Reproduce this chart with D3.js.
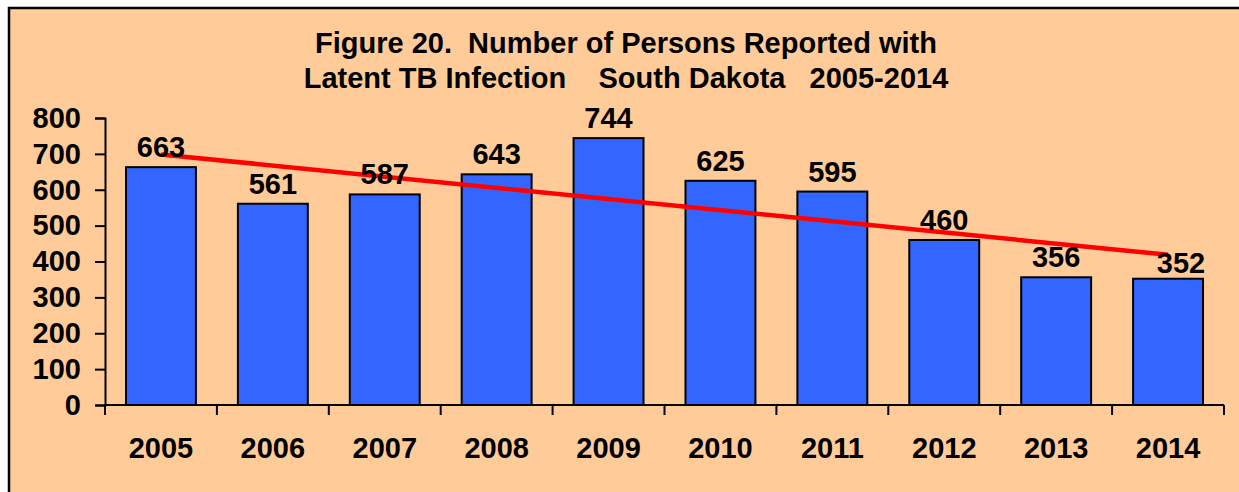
<!DOCTYPE html>
<html>
<head>
<meta charset="utf-8">
<script src="https://cdn.jsdelivr.net/npm/d3@7"></script>
<style>
  html, body { margin: 0; padding: 0; background: #fff; }
  text { font-family: Arial, "Liberation Sans", sans-serif; font-weight: bold; fill: #000; }
</style>
</head>
<body>
<svg id="chart"></svg>
<script>
// data
const years = ["2005", "2006", "2007", "2008", "2009", "2010", "2011", "2012", "2013", "2014"];
const persons = [663, 561, 587, 643, 744, 625, 595, 460, 356, 352];
const yTicks = [0, 100, 200, 300, 400, 500, 600, 700, 800];
const titleLines = ["Figure 20.  Number of Persons Reported with", "Latent TB Infection    South Dakota   2005-2014"];

const width = 1239;
const height = 492;
const margin = { top: 118, right: 15, bottom: 87, left: 105 };
const fontSize = "29px";

const svg = d3.select("#chart")
  .attr("width", width)
  .attr("height", height);

// background + frame
svg.append("rect")
  .attr("x", 9).attr("y", 8)
  .attr("width", width + 10).attr("height", height + 10)
  .attr("fill", "#FFCC99")
  .attr("stroke", "#000")
  .attr("stroke-width", 2.5);

// title
svg.append("text")
  .attr("xml:space", "preserve")
  .attr("text-anchor", "middle")
  .style("font-size", "29px")
  .selectAll("tspan")
  .data(titleLines)
  .enter()
  .append("tspan")
  .attr("x", 626)
  .attr("y", (d, i) => 53 + i * 35)
  .style("white-space", "pre")
  .text(d => d);

// scales
const x = d3.scaleBand()
  .domain(years)
  .range([margin.left, width - margin.right])
  .paddingInner(0.375)
  .paddingOuter(0.1875);

const y = d3.scaleLinear()
  .domain([0, 800])
  .range([height - margin.bottom, margin.top]);

// axes
const xAxis = d3.axisBottom(x).tickSize(0).tickPadding(32);
const gx = svg.append("g")
  .attr("transform", "translate(0," + (height - margin.bottom) + ")")
  .call(xAxis);
gx.select(".domain").remove();
gx.selectAll("text").style("font-size", fontSize).attr("fill", "#000");

// tick marks between categories
const xBounds = d3.range(years.length + 1).map(i => margin.left + i * x.step());
gx.selectAll(".bound")
  .data(xBounds)
  .enter()
  .append("line")
  .attr("x1", d => d).attr("x2", d => d)
  .attr("y1", 0).attr("y2", 10)
  .attr("stroke", "#000").attr("stroke-width", 2);

const yAxis = d3.axisLeft(y).tickValues(yTicks).tickSize(10).tickPadding(14);
const gy = svg.append("g")
  .attr("transform", "translate(" + margin.left + ",0)")
  .call(yAxis);
gy.select(".domain").attr("stroke-width", 2);
gy.selectAll(".tick line").attr("stroke-width", 2);
gy.selectAll("text").style("font-size", fontSize).attr("fill", "#000");

// bars
svg.selectAll(".bar")
  .data(persons)
  .enter()
  .append("rect")
  .attr("class", "bar")
  .attr("x", (d, i) => x(years[i]))
  .attr("y", d => y(d))
  .attr("width", x.bandwidth())
  .attr("height", d => y(0) - y(d))
  .attr("fill", "#3366FF")
  .attr("stroke", "#000")
  .attr("stroke-width", 2);

// x axis line on top of bars
svg.append("line")
  .attr("x1", margin.left).attr("x2", width - margin.right)
  .attr("y1", y(0)).attr("y2", y(0))
  .attr("stroke", "#000").attr("stroke-width", 2);

// linear trend (least squares)
const n = persons.length;
const mx = d3.mean(d3.range(n));
const my = d3.mean(persons);
const slope = d3.sum(persons, (v, i) => (i - mx) * (v - my)) / d3.sum(d3.range(n), i => (i - mx) * (i - mx));
const trend = [0, n - 1].map(i => [i, my + slope * (i - mx)]);

const line = d3.line()
  .x(d => x(years[d[0]]) + x.bandwidth() / 2)
  .y(d => y(d[1]));

svg.append("path")
  .datum(trend)
  .attr("d", line)
  .attr("fill", "none")
  .attr("stroke", "#FF0000")
  .attr("stroke-width", 4.5);

// data labels
svg.selectAll(".lbl")
  .data(persons)
  .enter()
  .append("text")
  .attr("class", "lbl")
  .attr("x", (d, i) => x(years[i]) + x.bandwidth() / 2 + (i === n - 1 ? 13 : 0))
  .attr("y", (d, i) => y(d) - (i === n - 1 ? 6 : 10))
  .attr("text-anchor", "middle")
  .style("font-size", fontSize)
  .text(d => d);
</script>
</body>
</html>
